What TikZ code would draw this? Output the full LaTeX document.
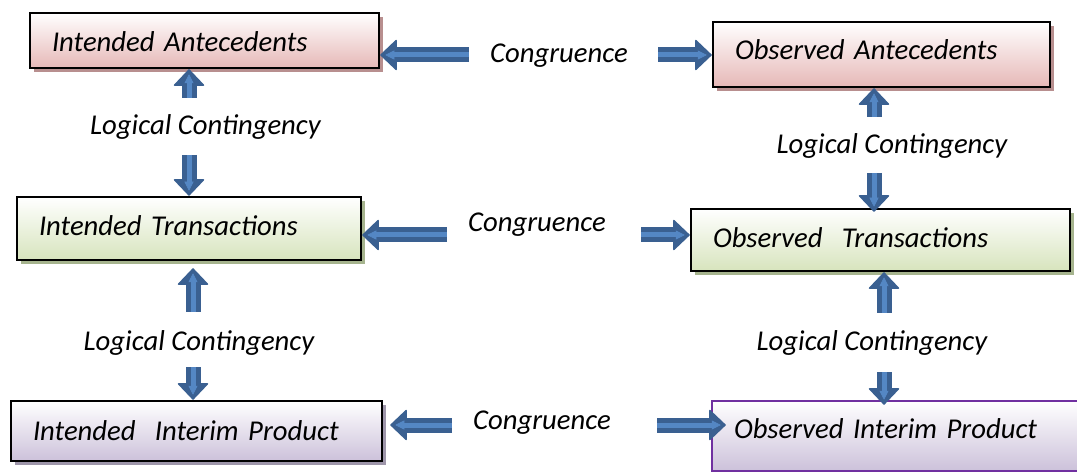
\documentclass[tikz,border=0pt]{standalone}
\usepackage{fontspec}
\setmainfont{Carlito}
\usepackage{tikz}
\usetikzlibrary{arrows.meta,shadows}
\definecolor{arrow_dark}{RGB}{58,96,145}
\definecolor{arrow_light}{RGB}{84,135,196}
\definecolor{ante_fill}{RGB}{230,184,183}
\definecolor{ante_shadow}{RGB}{184,143,143}
\definecolor{trans_fill}{RGB}{215,228,189}
\definecolor{trans_shadow}{RGB}{166,180,142}
\definecolor{prod_fill}{RGB}{204,193,218}
\definecolor{prod_shadow}{RGB}{158,150,170}
\definecolor{prod_line}{RGB}{112,48,160}

\begin{document}
\begin{tikzpicture}[x=1pt,y=-1pt,font=\itshape\fontsize{28.7}{34}\selectfont]
    \tikzstyle{stage}=[draw=black, line width=2.5pt, rectangle, inner xsep=22pt, inner ysep=0pt, text depth=0pt, align=left]
    \tikzstyle{ante}=[stage, top color=white, bottom color=ante_fill, general shadow={fill=ante_shadow, shadow xshift=4pt, shadow yshift=-4pt}]
    \tikzstyle{trans}=[stage, top color=white, bottom color=trans_fill, general shadow={fill=trans_shadow, shadow xshift=4pt, shadow yshift=-4pt}]
    \tikzstyle{prod}=[stage, top color=white, bottom color=prod_fill, general shadow={fill=prod_shadow, shadow xshift=4pt, shadow yshift=-4pt}]
    \tikzstyle{lbl}=[anchor=base, inner sep=0pt]
    \tikzstyle{barrow}=[draw=arrow_dark, line width=15pt, -{Triangle[width=32pt,length=17pt,line width=1.5pt,round]},
      postaction={draw=arrow_light, line width=5pt, shorten >=5pt, -{Triangle[width=9pt,length=9pt,line width=0.5pt]}}]

    \useasboundingbox (0,0) rectangle (1077,473);

    % boxes
    \node[ante]  (ia)  at (204.5,40.5) [minimum width=349, minimum height=55, text width=305, text height=23] {Intended Antecedents};
    \node[ante]  (oa)  at (881.5,54.5) [minimum width=337, minimum height=65, text width=293, text height=11] {Observed Antecedents};
    \node[trans] (it)  at (189,228.5)  [minimum width=344, minimum height=63, text width=300, text height=15] {Intended Transactions};
    \node[trans] (ot)  at (880.5,240)  [minimum width=379, minimum height=62, text width=335, text height=16] {Observed~~Transactions};
    \node[prod]  (iip) at (196.5,431)  [minimum width=371, minimum height=60, text width=327, text height=18] {Intended~~Interim Product};
    \node[stage, draw=prod_line, top color=white, bottom color=prod_fill] (oip) at (901,436)
      [minimum width=378, minimum height=70, text width=334, text height=4] {Observed Interim Product};

    % labels
    \node[lbl] (cong1) at (559,63)    {Congruence};
    \node[lbl] (cong2) at (537,232)   {Congruence};
    \node[lbl] (cong3) at (542,429)   {Congruence};
    \node[lbl] (lc1)   at (205.5,135) {Logical Contingency};
    \node[lbl] (lc2)   at (892,154)   {Logical Contingency};
    \node[lbl] (lc3)   at (199,350)   {Logical Contingency};
    \node[lbl] (lc4)   at (872,350)   {Logical Contingency};

    % arrow tails
    \coordinate (c1l) at (469,55);
    \coordinate (c1r) at (658,55);
    \coordinate (c2l) at (447,235);
    \coordinate (c2r) at (641,235);
    \coordinate (c3l) at (452,425);
    \coordinate (c3r) at (657,425);
    \coordinate (v1) at (189,98);
    \coordinate (v2) at (189,155);
    \coordinate (v3) at (193,312);
    \coordinate (v4) at (193,367);
    \coordinate (v5) at (874,117);
    \coordinate (v6) at (874,173);
    \coordinate (v7) at (884,313);
    \coordinate (v8) at (884,372);

    \draw[barrow] (c1l) -- (c1l -| ia.east);
    \draw[barrow] (c1r) -- (c1r -| oa.west);
    \draw[barrow] (c2l) -- (c2l -| it.east);
    \draw[barrow] (c2r) -- (c2r -| ot.west);
    \draw[barrow] (c3l) -- ([xshift=7pt]c3l -| iip.east);
    \draw[barrow] (c3r) -- ([xshift=15pt]c3r -| oip.west);
    \draw[barrow] (v1) -- (v1 |- ia.south);
    \draw[barrow] (v2) -- (v2 |- it.north);
    \draw[barrow] (v3) -- ([yshift=-7pt]v3 |- it.south);
    \draw[barrow] (v4) -- (v4 |- iip.north);
    \draw[barrow] (v5) -- (v5 |- oa.south);
    \draw[barrow] (v6) -- ([yshift=-4pt]v6 |- ot.north);
    \draw[barrow] (v7) -- (v7 |- ot.south);
    \draw[barrow] (v8) -- ([yshift=-5pt]v8 |- oip.north);
\end{tikzpicture}
\end{document}
